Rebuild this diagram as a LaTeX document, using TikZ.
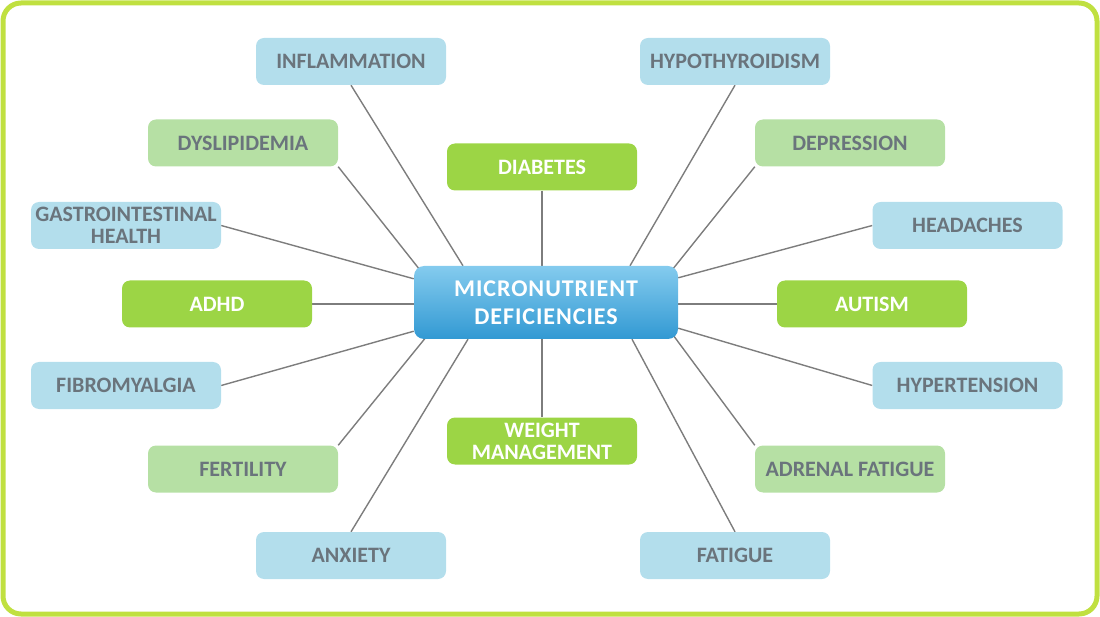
\documentclass[tikz,border=0pt]{standalone}
\usepackage{fontspec}
\setmainfont{Carlito}
\newfontfamily\hubfont{Carlito}[LetterSpace=4]
\usepackage{tikz}
\usetikzlibrary{backgrounds}
\definecolor{frameg}{HTML}{C0E040}
\definecolor{paleblue}{HTML}{B3DEEC}
\definecolor{palegreen}{HTML}{B6E0A4}
\definecolor{leafgreen}{HTML}{9CD545}
\definecolor{hubtop}{HTML}{84CBEE}
\definecolor{hubbot}{HTML}{3299D3}
\definecolor{txtgray}{HTML}{6A747C}
\definecolor{linegray}{HTML}{7D7D7D}

\tikzstyle{topic} = [rectangle, rounded corners=8pt, 
minimum width=190pt, 
minimum height=47pt, 
text centered, align=center, inner sep=2pt,
font=\fontsize{22}{22}\selectfont\bfseries, 
text=txtgray]
\tikzstyle{bluetopic} = [topic, fill=paleblue]
\tikzstyle{greentopic} = [topic, fill=palegreen]
\tikzstyle{keytopic} = [topic, fill=leafgreen, text=white]
\tikzstyle{hub} = [rectangle, rounded corners=10pt, 
minimum width=264pt, 
minimum height=73pt, 
text centered, align=center,
top color=hubtop, bottom color=hubbot, 
text=white, font=\hubfont\fontsize{24}{28}\selectfont\bfseries]
\tikzstyle{link} = [draw=linegray, line width=1.4pt]

\begin{document}
\begin{tikzpicture}[x=1pt, y=-1pt]

\useasboundingbox (0,0) rectangle (1100,617);
\draw [frameg, line width=5pt, rounded corners=18pt] (3,3) rectangle (1097,614);

\node (hub) [hub] at (546,302.5) {MICRONUTRIENT\\DEFICIENCIES};

\node (infl) [bluetopic] at (351,61.5) {INFLAMMATION};
\node (hypo) [bluetopic] at (735,61.5) {HYPOTHYROIDISM};
\node (dysl) [greentopic] at (243,143) {DYSLIPIDEMIA};
\node (depr) [greentopic] at (850,143) {DEPRESSION};
\node (diab) [keytopic] at (542,167) {DIABETES};
\node (gastro) [bluetopic] at (126,225.5) {GASTROINTESTINAL\\HEALTH};
\node (head) [bluetopic] at (967.5,225.5) {HEADACHES};
\node (adhd) [keytopic] at (217,304) {ADHD};
\node (autism) [keytopic] at (872,304) {AUTISM};
\node (fibro) [bluetopic] at (126,385.5) {FIBROMYALGIA};
\node (hyper) [bluetopic] at (967.5,385.5) {HYPERTENSION};
\node (weight) [keytopic] at (542,441) {WEIGHT\\MANAGEMENT};
\node (fert) [greentopic] at (243,469) {FERTILITY};
\node (adren) [greentopic] at (850,469) {ADRENAL FATIGUE};
\node (anx) [bluetopic] at (351,555.5) {ANXIETY};
\node (fatig) [bluetopic] at (735,555.5) {FATIGUE};

\begin{scope}[on background layer]
\draw [link] (infl.south) -- ([xshift=-83pt]hub.north);
\draw [link] (hypo.south) -- ([xshift=84pt]hub.north);
\draw [link] (dysl.south east) -- ([xshift=6pt,yshift=-4pt]hub.north west);
\draw [link] (depr.south west) -- ([xshift=-6pt,yshift=-4pt]hub.north east);
\draw [link] (diab.south) -- (diab.south |- hub.north);
\draw [link] (gastro.east) -- ([yshift=-13pt]hub.north west);
\draw [link] (head.west) -- ([yshift=-12pt]hub.north east);
\draw [link] (adhd.east) -- (adhd.east -| hub.west);
\draw [link] (autism.west) -- (autism.west -| hub.east);
\draw [link] (fibro.east) -- ([yshift=8pt]hub.south west);
\draw [link] (hyper.west) -- ([yshift=11pt]hub.south east);
\draw [link] (weight.north) -- (weight.north |- hub.south);
\draw [link] (fert.north east) -- ([xshift=13pt,yshift=3pt]hub.south west);
\draw [link] (adren.north west) -- ([xshift=-5pt,yshift=4pt]hub.south east);
\draw [link] (anx.north) -- ([xshift=-78pt]hub.south);
\draw [link] (fatig.north) -- ([xshift=86pt]hub.south);
\end{scope}

\end{tikzpicture}
\end{document}
